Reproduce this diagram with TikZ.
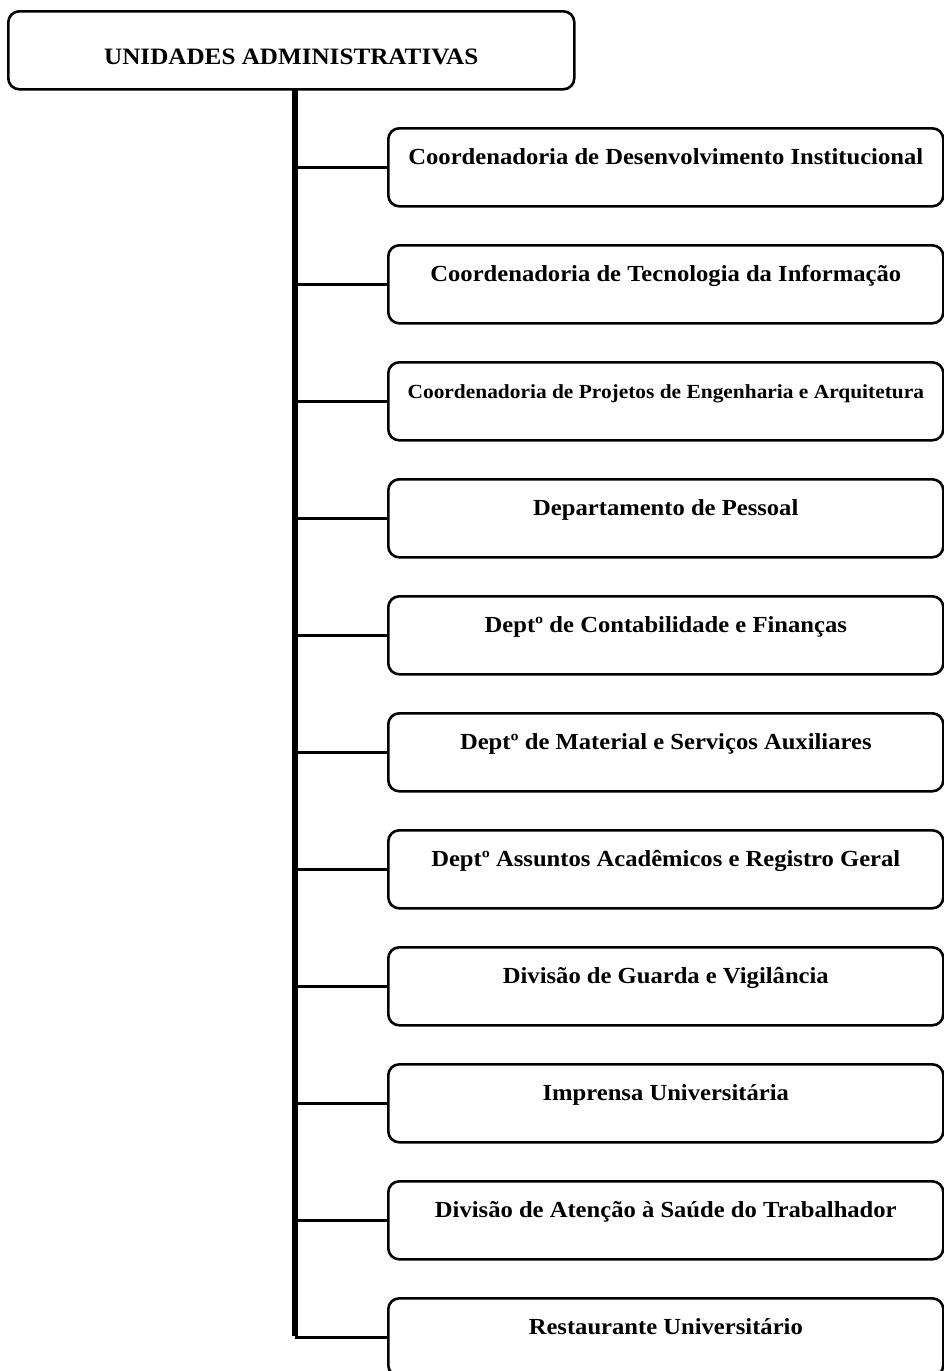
\documentclass[tikz,border=0pt]{standalone}
\usepackage{fontspec}
\setmainfont{Liberation Serif}[FakeStretch=1.07]
\begin{document}
\begin{tikzpicture}[x=1pt,y=-1pt,
  box/.style={draw=black, line width=2.6pt, rounded corners=11pt, inner xsep=0pt, inner ysep=0pt, font=\bfseries\fontsize{23}{25}\selectfont},
  child/.style={box, minimum width=555pt, text height=36pt, text depth=42pt, anchor=north west},
  trunkline/.style={line width=5.5pt},
  branch/.style={line width=3pt}]
\useasboundingbox (0,0) rectangle (944,1371);
\begin{scope}
\clip (0,0) rectangle (944,1371);
\node[box, minimum width=566pt, text height=53pt, text depth=25pt, anchor=north west,
  font=\bfseries\fontsize{23.5}{25}\selectfont] (top) at (7,10) {UNIDADES ADMINISTRATIVAS};
\coordinate (tb) at (295,88);
\foreach \i/\t [count=\k] in {
 0/{Coordenadoria de Desenvolvimento Institucional},
 1/{Coordenadoria de Tecnologia da Informação},
 2/{\fontsize{20}{22}\selectfont Coordenadoria de Projetos de Engenharia e Arquitetura},
 3/{Departamento de Pessoal},
 4/{Deptº de Contabilidade e Finanças},
 5/{Deptº de Material e Serviços Auxiliares},
 6/{Deptº Assuntos Acadêmicos e Registro Geral},
 7/{Divisão de Guarda e Vigilância},
 8/{Imprensa Universitária},
 9/{Divisão de Atenção à Saúde do Trabalhador},
 10/{Restaurante Universitário}} {
  \node[child] (c\k) at (387,{127+117*\i}) {\t};
  \draw[branch] (c\k.west -| tb) -- (c\k.west);
}
\draw[trunkline] (tb) -- ([yshift=1.5pt]c11.west -| tb);
\end{scope}
\end{tikzpicture}
\end{document}
